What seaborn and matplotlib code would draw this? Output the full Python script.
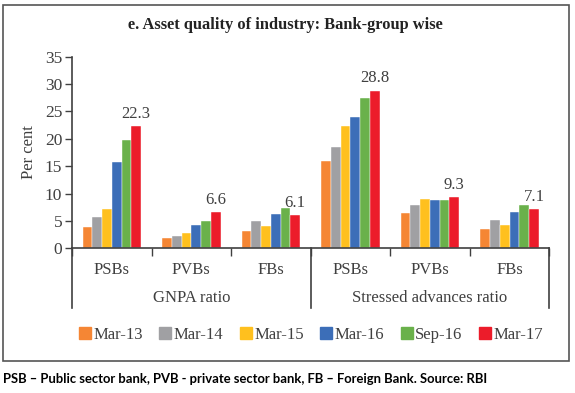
import matplotlib
matplotlib.use("Agg")
import matplotlib.pyplot as plt
from matplotlib.patches import Rectangle
import pandas as pd
import seaborn as sns

# values (per cent)
banks = ["PSBs", "PVBs", "FBs", "PSBs", "PVBs", "FBs"]
ratios = ["GNPA ratio"] * 3 + ["Stressed advances ratio"] * 3
periods = ["Mar-13", "Mar-14", "Mar-15", "Mar-16", "Sep-16", "Mar-17"]
mar13 = [3.9, 1.9, 3.2, 16.0, 6.4, 3.5]
mar14 = [5.7, 2.3, 4.9, 18.5, 7.9, 5.1]
mar15 = [7.2, 2.8, 4.1, 22.4, 9.0, 4.3]
mar16 = [15.8, 4.2, 6.2, 24.0, 8.8, 6.7]
sep16 = [19.7, 5.0, 7.3, 27.5, 8.8, 8.0]
mar17 = [22.3, 6.6, 6.1, 28.8, 9.3, 7.1]
colors = ["#F58634", "#A0A0A3", "#FFC01E", "#3C6EB8", "#6AB14B", "#EC1C2A"]

series = [mar13, mar14, mar15, mar16, sep16, mar17]
slots = [f"{r}|{b}" for r, b in zip(ratios, banks)]
rows = []
for p, vals in zip(periods, series):
    for s, v in zip(slots, vals):
        rows.append({"slot": s, "period": p, "value": v})
df = pd.DataFrame(rows)

plt.rcParams["font.family"] = ["Liberation Serif", "DejaVu Serif"]
txt = "#404040"

fig = plt.figure(figsize=(5.75, 3.93), dpi=100)
ax = fig.add_axes([72 / 575, 1 - 248.3 / 393, (549.3 - 72) / 575, (248.3 - 56.7) / 393])

sns.barplot(data=df, x="slot", y="value", hue="period", order=slots,
            hue_order=periods, palette=colors, width=0.735, saturation=1,
            edgecolor="white", linewidth=0.3, legend=False, ax=ax)

ax.bar_label(ax.containers[-1], fmt="%.1f", padding=3, fontsize=12, color=txt)

ax.set_ylim(0, 35)
ax.set_yticks(range(0, 36, 5))
ax.set_xlim(-0.5, 5.5)
ax.set_xticks(range(6))
ax.set_xticklabels(banks)
ax.set_xticks([x + 0.5 for x in range(-1, 6)], minor=True)
ax.tick_params(axis="x", which="major", length=0, pad=10, labelsize=12, colors=txt)
ax.tick_params(axis="x", which="minor", length=6, width=1, color=txt, direction="out")
ax.tick_params(axis="y", length=5, width=1, color=txt, labelsize=12.5, labelcolor=txt, pad=2)
ax.set_xlabel("")
ax.set_ylabel("Per cent", fontsize=12, color=txt, labelpad=6)
for side in ["top", "right"]:
    ax.spines[side].set_visible(False)
for side in ["left", "bottom"]:
    ax.spines[side].set_color(txt)
    ax.spines[side].set_linewidth(1.2)

# long separators below the axis and group labels
for xs in [-0.5, 2.5, 5.5]:
    ax.plot([xs, xs], [0, -60 / 5.474], color=txt, lw=1.2, clip_on=False)
ax.text(1, -49.5 / 5.474, "GNPA ratio", ha="center", va="center", fontsize=12, color=txt)
ax.text(4, -49.5 / 5.474, "Stressed advances ratio", ha="center", va="center", fontsize=12, color=txt)

handles = [Rectangle((0, 0), 1, 1, color=c) for c in colors]
fig.legend(handles, periods, loc="center", bbox_to_anchor=(311 / 575, 1 - 335 / 393),
           ncol=6, frameon=False, fontsize=12, handlelength=0.7, handleheight=0.7,
           handletextpad=0.15, columnspacing=1.0, labelcolor=txt)

fig.text(285.5 / 575, 1 - 25 / 393, "e. Asset quality of industry: Bank-group wise",
         ha="center", va="center", fontsize=11.8, fontweight="bold", color="#222222")

fig.patches.append(Rectangle((3 / 575, 1 - 361 / 393), 566 / 575, 356 / 393,
                             transform=fig.transFigure, fill=False,
                             edgecolor="#555555", lw=1.2))

fig.text(3 / 575, 1 - 379 / 393,
         "PSB \u2013 Public sector bank, PVB - private sector bank, FB \u2013 Foreign Bank. Source: RBI",
         ha="left", va="center", fontsize=9.4, fontweight="bold", family=["Lato", "DejaVu Sans"])

fig.savefig("out.png", dpi=100)
